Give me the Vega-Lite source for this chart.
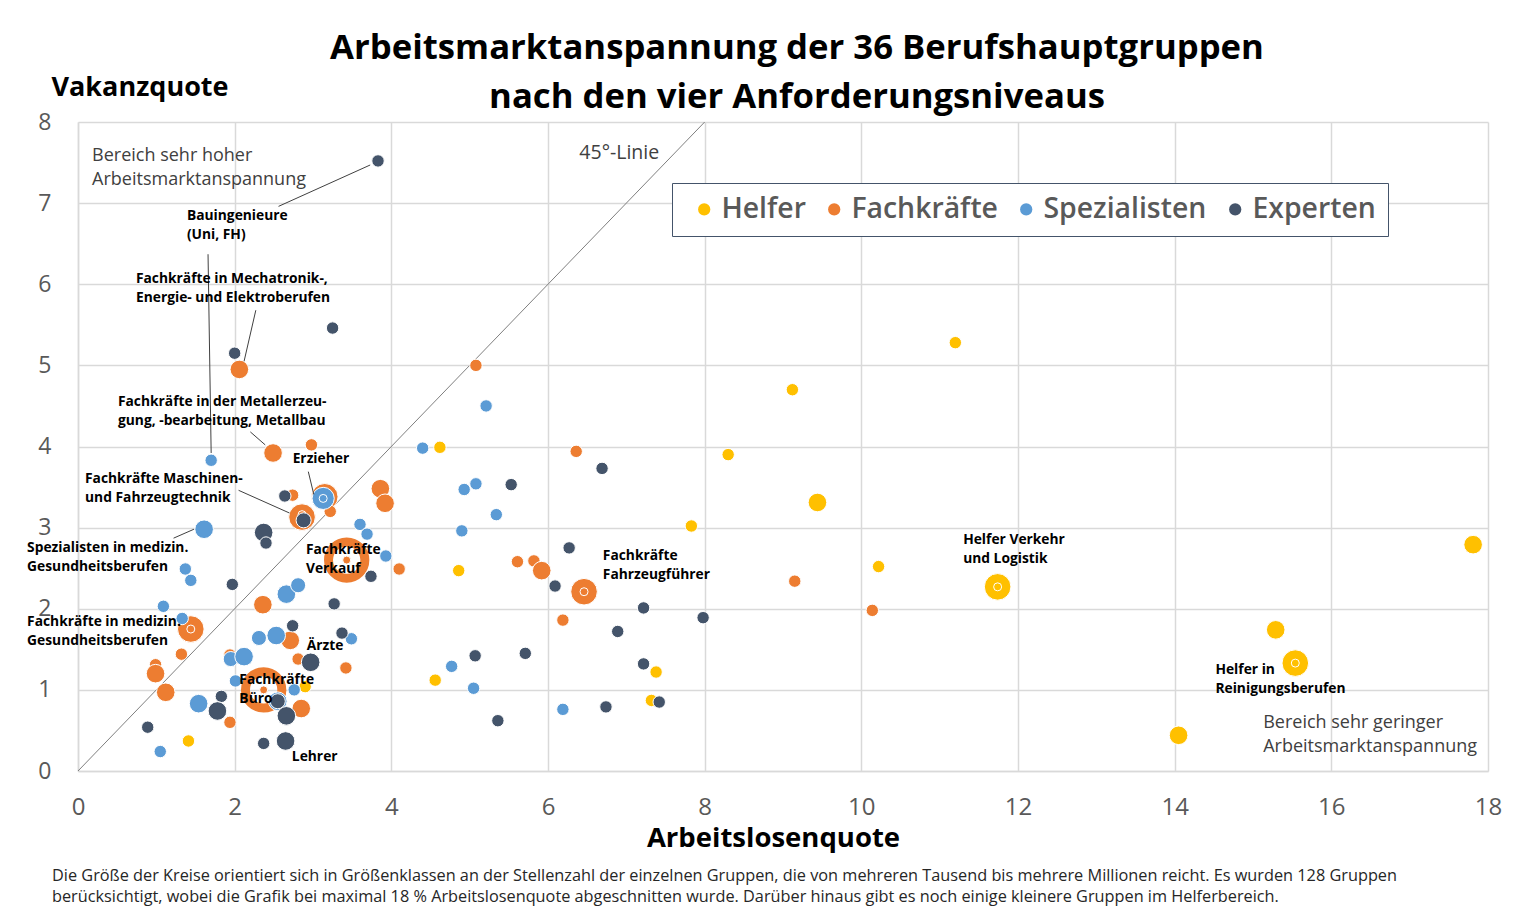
{
  "$schema": "https://vega.github.io/schema/vega-lite/v6.json",
  "width": 1410,
  "height": 649,
  "autosize": {"type": "none"},
  "padding": {"left": 78, "top": 122, "right": 28, "bottom": 146},
  "background": "white",
  "config": {"view": {"stroke": null}, "font": "Open Sans"},
  "title": {
    "text": ["Arbeitsmarktanspannung der 36 Berufshauptgruppen", "nach  den vier Anforderungsniveaus"],
    "frame": "group", "anchor": "middle", "dx": 14, "dy": 57, "offset": 14,
    "fontSize": 34.7, "fontWeight": "bold", "color": "#000000", "lineHeight": 49, "font": "Open Sans"
  },
  "datasets": {
    "punkte": [
      {"niveau": "Helfer", "ax": 11.20, "vq": 5.28, "klasse": 1},
      {"niveau": "Helfer", "ax": 9.12, "vq": 4.70, "klasse": 1},
      {"niveau": "Helfer", "ax": 8.30, "vq": 3.90, "klasse": 1},
      {"niveau": "Helfer", "ax": 9.44, "vq": 3.31, "klasse": 3},
      {"niveau": "Helfer", "ax": 7.83, "vq": 3.02, "klasse": 1},
      {"niveau": "Helfer", "ax": 10.22, "vq": 2.52, "klasse": 1},
      {"niveau": "Helfer", "ax": 11.74, "vq": 2.27, "klasse": 5},
      {"niveau": "Helfer", "ax": 11.74, "vq": 2.27, "klasse": 0},
      {"niveau": "Helfer", "ax": 17.81, "vq": 2.79, "klasse": 3},
      {"niveau": "Helfer", "ax": 15.29, "vq": 1.74, "klasse": 3},
      {"niveau": "Helfer", "ax": 15.54, "vq": 1.33, "klasse": 5},
      {"niveau": "Helfer", "ax": 15.54, "vq": 1.33, "klasse": 0},
      {"niveau": "Helfer", "ax": 14.05, "vq": 0.44, "klasse": 3},
      {"niveau": "Helfer", "ax": 4.62, "vq": 3.99, "klasse": 1},
      {"niveau": "Helfer", "ax": 4.86, "vq": 2.47, "klasse": 1},
      {"niveau": "Helfer", "ax": 4.56, "vq": 1.12, "klasse": 1},
      {"niveau": "Helfer", "ax": 7.38, "vq": 1.22, "klasse": 1},
      {"niveau": "Helfer", "ax": 7.32, "vq": 0.87, "klasse": 1},
      {"niveau": "Helfer", "ax": 2.90, "vq": 1.04, "klasse": 1},
      {"niveau": "Helfer", "ax": 1.41, "vq": 0.37, "klasse": 1},
      {"niveau": "Fachkräfte", "ax": 2.06, "vq": 4.95, "klasse": 3},
      {"niveau": "Fachkräfte", "ax": 2.49, "vq": 3.92, "klasse": 3},
      {"niveau": "Fachkräfte", "ax": 2.98, "vq": 4.02, "klasse": 1},
      {"niveau": "Fachkräfte", "ax": 2.74, "vq": 3.40, "klasse": 1},
      {"niveau": "Fachkräfte", "ax": 3.15, "vq": 3.38, "klasse": 5},
      {"niveau": "Fachkräfte", "ax": 3.22, "vq": 3.20, "klasse": 1},
      {"niveau": "Fachkräfte", "ax": 2.86, "vq": 3.13, "klasse": 5},
      {"niveau": "Fachkräfte", "ax": 2.86, "vq": 3.16, "klasse": 0},
      {"niveau": "Fachkräfte", "ax": 3.86, "vq": 3.48, "klasse": 3},
      {"niveau": "Fachkräfte", "ax": 3.92, "vq": 3.30, "klasse": 3},
      {"niveau": "Fachkräfte", "ax": 4.10, "vq": 2.49, "klasse": 1},
      {"niveau": "Fachkräfte", "ax": 3.43, "vq": 2.60, "klasse": 6},
      {"niveau": "Fachkräfte", "ax": 3.43, "vq": 2.60, "klasse": 0},
      {"niveau": "Fachkräfte", "ax": 2.36, "vq": 2.05, "klasse": 3},
      {"niveau": "Fachkräfte", "ax": 1.44, "vq": 1.75, "klasse": 5},
      {"niveau": "Fachkräfte", "ax": 1.44, "vq": 1.75, "klasse": 0},
      {"niveau": "Fachkräfte", "ax": 2.71, "vq": 1.61, "klasse": 3},
      {"niveau": "Fachkräfte", "ax": 1.32, "vq": 1.44, "klasse": 1},
      {"niveau": "Fachkräfte", "ax": 0.99, "vq": 1.31, "klasse": 1},
      {"niveau": "Fachkräfte", "ax": 0.99, "vq": 1.20, "klasse": 3},
      {"niveau": "Fachkräfte", "ax": 1.12, "vq": 0.97, "klasse": 3},
      {"niveau": "Fachkräfte", "ax": 2.81, "vq": 1.38, "klasse": 1},
      {"niveau": "Fachkräfte", "ax": 3.42, "vq": 1.27, "klasse": 1},
      {"niveau": "Fachkräfte", "ax": 2.37, "vq": 1.00, "klasse": 6},
      {"niveau": "Fachkräfte", "ax": 2.37, "vq": 1.00, "klasse": 0},
      {"niveau": "Fachkräfte", "ax": 2.85, "vq": 0.77, "klasse": 3},
      {"niveau": "Fachkräfte", "ax": 1.94, "vq": 0.60, "klasse": 1},
      {"niveau": "Fachkräfte", "ax": 1.94, "vq": 1.43, "klasse": 1},
      {"niveau": "Fachkräfte", "ax": 5.08, "vq": 5.00, "klasse": 1},
      {"niveau": "Fachkräfte", "ax": 6.36, "vq": 3.94, "klasse": 1},
      {"niveau": "Fachkräfte", "ax": 5.61, "vq": 2.58, "klasse": 1},
      {"niveau": "Fachkräfte", "ax": 5.82, "vq": 2.59, "klasse": 1},
      {"niveau": "Fachkräfte", "ax": 5.92, "vq": 2.47, "klasse": 3},
      {"niveau": "Fachkräfte", "ax": 6.46, "vq": 2.21, "klasse": 5},
      {"niveau": "Fachkräfte", "ax": 6.46, "vq": 2.21, "klasse": 0},
      {"niveau": "Fachkräfte", "ax": 6.19, "vq": 1.86, "klasse": 1},
      {"niveau": "Fachkräfte", "ax": 9.15, "vq": 2.34, "klasse": 1},
      {"niveau": "Fachkräfte", "ax": 10.14, "vq": 1.98, "klasse": 1},
      {"niveau": "Spezialisten", "ax": 1.70, "vq": 3.83, "klasse": 1},
      {"niveau": "Spezialisten", "ax": 3.13, "vq": 3.36, "klasse": 4},
      {"niveau": "Spezialisten", "ax": 3.13, "vq": 3.36, "klasse": 0},
      {"niveau": "Spezialisten", "ax": 1.61, "vq": 2.98, "klasse": 3},
      {"niveau": "Spezialisten", "ax": 3.60, "vq": 3.04, "klasse": 1},
      {"niveau": "Spezialisten", "ax": 3.69, "vq": 2.92, "klasse": 1},
      {"niveau": "Spezialisten", "ax": 3.93, "vq": 2.65, "klasse": 1},
      {"niveau": "Spezialisten", "ax": 1.37, "vq": 2.49, "klasse": 1},
      {"niveau": "Spezialisten", "ax": 1.44, "vq": 2.35, "klasse": 1},
      {"niveau": "Spezialisten", "ax": 2.66, "vq": 2.18, "klasse": 3},
      {"niveau": "Spezialisten", "ax": 2.81, "vq": 2.29, "klasse": 2},
      {"niveau": "Spezialisten", "ax": 1.09, "vq": 2.03, "klasse": 1},
      {"niveau": "Spezialisten", "ax": 1.33, "vq": 1.88, "klasse": 1},
      {"niveau": "Spezialisten", "ax": 2.31, "vq": 1.64, "klasse": 2},
      {"niveau": "Spezialisten", "ax": 2.53, "vq": 1.67, "klasse": 3},
      {"niveau": "Spezialisten", "ax": 3.49, "vq": 1.63, "klasse": 1},
      {"niveau": "Spezialisten", "ax": 1.95, "vq": 1.38, "klasse": 2},
      {"niveau": "Spezialisten", "ax": 2.12, "vq": 1.41, "klasse": 3},
      {"niveau": "Spezialisten", "ax": 2.01, "vq": 1.11, "klasse": 1},
      {"niveau": "Spezialisten", "ax": 2.76, "vq": 1.00, "klasse": 1},
      {"niveau": "Spezialisten", "ax": 1.54, "vq": 0.83, "klasse": 3},
      {"niveau": "Spezialisten", "ax": 2.55, "vq": 0.86, "klasse": 3},
      {"niveau": "Spezialisten", "ax": 1.05, "vq": 0.24, "klasse": 1},
      {"niveau": "Spezialisten", "ax": 5.21, "vq": 4.50, "klasse": 1},
      {"niveau": "Spezialisten", "ax": 4.40, "vq": 3.98, "klasse": 1},
      {"niveau": "Spezialisten", "ax": 4.93, "vq": 3.47, "klasse": 1},
      {"niveau": "Spezialisten", "ax": 5.08, "vq": 3.54, "klasse": 1},
      {"niveau": "Spezialisten", "ax": 5.34, "vq": 3.16, "klasse": 1},
      {"niveau": "Spezialisten", "ax": 4.90, "vq": 2.96, "klasse": 1},
      {"niveau": "Spezialisten", "ax": 4.77, "vq": 1.29, "klasse": 1},
      {"niveau": "Spezialisten", "ax": 5.05, "vq": 1.02, "klasse": 1},
      {"niveau": "Spezialisten", "ax": 6.19, "vq": 0.76, "klasse": 1},
      {"niveau": "Experten", "ax": 3.83, "vq": 7.52, "klasse": 1},
      {"niveau": "Experten", "ax": 3.25, "vq": 5.46, "klasse": 1},
      {"niveau": "Experten", "ax": 2.00, "vq": 5.15, "klasse": 1},
      {"niveau": "Experten", "ax": 2.64, "vq": 3.39, "klasse": 1},
      {"niveau": "Experten", "ax": 2.88, "vq": 3.09, "klasse": 2},
      {"niveau": "Experten", "ax": 2.37, "vq": 2.94, "klasse": 3},
      {"niveau": "Experten", "ax": 2.40, "vq": 2.81, "klasse": 1},
      {"niveau": "Experten", "ax": 3.74, "vq": 2.40, "klasse": 1},
      {"niveau": "Experten", "ax": 1.97, "vq": 2.30, "klasse": 1},
      {"niveau": "Experten", "ax": 3.27, "vq": 2.06, "klasse": 1},
      {"niveau": "Experten", "ax": 2.74, "vq": 1.79, "klasse": 1},
      {"niveau": "Experten", "ax": 3.37, "vq": 1.70, "klasse": 1},
      {"niveau": "Experten", "ax": 2.97, "vq": 1.34, "klasse": 3},
      {"niveau": "Experten", "ax": 1.83, "vq": 0.92, "klasse": 1},
      {"niveau": "Experten", "ax": 1.78, "vq": 0.74, "klasse": 3},
      {"niveau": "Experten", "ax": 2.55, "vq": 0.86, "klasse": 2},
      {"niveau": "Experten", "ax": 2.66, "vq": 0.68, "klasse": 3},
      {"niveau": "Experten", "ax": 0.89, "vq": 0.54, "klasse": 1},
      {"niveau": "Experten", "ax": 2.37, "vq": 0.34, "klasse": 1},
      {"niveau": "Experten", "ax": 2.65, "vq": 0.37, "klasse": 3},
      {"niveau": "Experten", "ax": 5.53, "vq": 3.53, "klasse": 1},
      {"niveau": "Experten", "ax": 6.69, "vq": 3.73, "klasse": 1},
      {"niveau": "Experten", "ax": 6.27, "vq": 2.75, "klasse": 1},
      {"niveau": "Experten", "ax": 6.09, "vq": 2.28, "klasse": 1},
      {"niveau": "Experten", "ax": 7.22, "vq": 2.01, "klasse": 1},
      {"niveau": "Experten", "ax": 7.98, "vq": 1.89, "klasse": 1},
      {"niveau": "Experten", "ax": 6.89, "vq": 1.72, "klasse": 1},
      {"niveau": "Experten", "ax": 5.07, "vq": 1.42, "klasse": 1},
      {"niveau": "Experten", "ax": 5.71, "vq": 1.45, "klasse": 1},
      {"niveau": "Experten", "ax": 7.22, "vq": 1.32, "klasse": 1},
      {"niveau": "Experten", "ax": 7.42, "vq": 0.85, "klasse": 1},
      {"niveau": "Experten", "ax": 6.74, "vq": 0.79, "klasse": 1},
      {"niveau": "Experten", "ax": 5.36, "vq": 0.62, "klasse": 1}
    ],
    "linien": [
      {"ax": 2.56, "vq": 6.96, "ax2": 3.73, "vq2": 7.47},
      {"ax": 1.66, "vq": 6.37, "ax2": 1.70, "vq2": 3.92},
      {"ax": 2.27, "vq": 5.68, "ax2": 2.12, "vq2": 5.05},
      {"ax": 2.20, "vq": 4.18, "ax2": 2.39, "vq2": 4.02},
      {"ax": 2.94, "vq": 3.69, "ax2": 3.01, "vq2": 3.41},
      {"ax": 2.05, "vq": 3.46, "ax2": 2.70, "vq2": 3.18},
      {"ax": 1.22, "vq": 2.87, "ax2": 1.48, "vq2": 2.98}
    ],
    "diagonale": [
      {"ax": 0, "vq": 0, "ax2": 8, "vq2": 8}
    ],
    "labels": [
      {"text": "Bauingenieure\n(Uni, FH)", "ax": 1.39, "vq": 6.841},
      {"text": "Fachkräfte in Mechatronik-,\nEnergie- und Elektroberufen", "ax": 0.74, "vq": 6.065},
      {"text": "Fachkräfte in der Metallerzeu-\ngung, -bearbeitung, Metallbau", "ax": 0.51, "vq": 4.549},
      {"text": "Erzieher", "ax": 2.74, "vq": 3.85},
      {"text": "Fachkräfte Maschinen-\nund Fahrzeugtechnik", "ax": 0.09, "vq": 3.599},
      {"text": "Spezialisten in medizin.\nGesundheitsberufen", "ax": -0.65, "vq": 2.749},
      {"text": "Fachkräfte\nVerkauf", "ax": 2.91, "vq": 2.724},
      {"text": "Fachkräfte\nFahrzeugführer", "ax": 6.70, "vq": 2.650},
      {"text": "Helfer Verkehr\nund Logistik", "ax": 11.30, "vq": 2.847},
      {"text": "Fachkräfte in medizin.\nGesundheitsberufen", "ax": -0.65, "vq": 1.837},
      {"text": "Ärzte", "ax": 2.92, "vq": 1.54},
      {"text": "Fachkräfte\nBüro", "ax": 2.06, "vq": 1.122},
      {"text": "Lehrer", "ax": 2.73, "vq": 0.17},
      {"text": "Helfer in\nReinigungsberufen", "ax": 14.52, "vq": 1.245}
    ],
    "bereiche": [
      {"text": "Bereich sehr hoher\nArbeitsmarktanspannung", "ax": 0.18, "vq": 7.581},
      {"text": "Bereich sehr geringer\nArbeitsmarktanspannung", "ax": 15.13, "vq": 0.592}
    ],
    "linie45": [
      {"text": "45°-Linie", "ax": 6.40, "vq": 7.62}
    ],
    "fussnote": [
      {"text": "Die Größe der Kreise orientiert sich in Größenklassen an der Stellenzahl der einzelnen Gruppen, die von mehreren Tausend bis mehrere Millionen  reicht. Es wurden 128 Gruppen\nberücksichtigt, wobei die Grafik bei maximal 18 % Arbeitslosenquote abgeschnitten wurde. Darüber hinaus gibt es noch einige kleinere Gruppen im Helferbereich.", "ax": -0.332, "vq": -1.294}
    ]
  },
  "encoding": {
    "x": {
      "field": "ax", "type": "quantitative",
      "scale": {"domain": [0, 18], "nice": false, "zero": false},
      "axis": {
        "values": [0, 2, 4, 6, 8, 10, 12, 14, 16, 18],
        "grid": true, "gridColor": "#d9d9d9", "gridWidth": 1.5,
        "domainColor": "#d9d9d9", "domainWidth": 1.5,
        "ticks": false, "tickSize": 0, "labelFlush": false,
        "labelFontSize": 24, "labelColor": "#595959", "labelPadding": 24, "labelFont": "Open Sans",
        "title": "Arbeitslosenquote", "titleFontSize": 27.5, "titleFontWeight": "bold", "titleColor": "#000000",
        "titleFont": "Open Sans", "titleX": 695, "titleY": 67, "titleAlign": "center", "titleBaseline": "middle"
      }
    },
    "y": {
      "field": "vq", "type": "quantitative",
      "scale": {"domain": [0, 8], "nice": false, "zero": false},
      "axis": {
        "values": [0, 1, 2, 3, 4, 5, 6, 7, 8],
        "grid": true, "gridColor": "#d9d9d9", "gridWidth": 1.5,
        "domainColor": "#d9d9d9", "domainWidth": 1.5,
        "ticks": false, "tickSize": 0, "labelFlush": false,
        "labelFontSize": 23, "labelColor": "#595959", "labelPadding": 27, "labelFont": "Open Sans",
        "title": "Vakanzquote", "titleFontSize": 27, "titleFontWeight": "bold", "titleColor": "#000000",
        "titleFont": "Open Sans", "titleAngle": 0, "titleX": -27, "titleY": -35, "titleAlign": "left", "titleBaseline": "middle"
      }
    }
  },
  "layer": [
    {
      "data": {"name": "diagonale"},
      "mark": {"type": "rule", "color": "#7f7f7f", "strokeWidth": 1},
      "encoding": {"x2": {"field": "ax2"}, "y2": {"field": "vq2"}}
    },
    {
      "data": {"name": "punkte"},
      "transform": [{"filter": "datum.klasse == 6"}],
      "mark": {"type": "point", "filled": false, "size": 1320, "strokeWidth": 9, "opacity": 1, "stroke": "#ED7D31"}
    },
    {
      "data": {"name": "punkte"},
      "transform": [{"filter": "datum.klasse < 6"}],
      "mark": {"type": "circle", "opacity": 1, "stroke": "white", "strokeWidth": 1},
      "encoding": {
        "color": {"field": "niveau", "type": "nominal",
          "scale": {"domain": ["Helfer", "Fachkräfte", "Spezialisten", "Experten"], "range": ["#FFC000", "#ED7D31", "#5B9BD5", "#44546A"]},
          "legend": {
            "title": null, "orient": "none", "direction": "horizontal",
            "legendX": 594, "legendY": 61, "padding": 12, "symbolOffset": 6,
            "strokeColor": "#44546A", "fillColor": "white",
            "symbolType": "circle", "symbolSize": 150, "symbolStrokeWidth": 0,
            "labelFontSize": 28.4, "labelFont": "Open Sans", "labelFontWeight": 600, "labelColor": "#595959",
            "labelOffset": 3, "columnPadding": 8, "labelLimit": 400
          }
        },
        "size": {"field": "klasse", "type": "quantitative",
          "scale": {"type": "threshold", "domain": [0.5, 1.5, 2.5, 3.5, 4.5], "range": [64, 154, 227, 346, 491, 707]},
          "legend": null}
      }
    },
    {
      "data": {"name": "linien"},
      "mark": {"type": "rule", "color": "#404040", "strokeWidth": 1},
      "encoding": {"x2": {"field": "ax2"}, "y2": {"field": "vq2"}}
    },
    {
      "data": {"name": "labels"},
      "mark": {"type": "text", "align": "left", "baseline": "middle", "font": "Open Sans", "fontWeight": "bold", "fontSize": 13.8, "lineBreak": "\n", "lineHeight": 19, "color": "#000000"},
      "encoding": {"text": {"field": "text"}}
    },
    {
      "data": {"name": "bereiche"},
      "mark": {"type": "text", "align": "left", "baseline": "middle", "font": "Open Sans", "fontSize": 18, "lineBreak": "\n", "lineHeight": 24, "color": "#404040"},
      "encoding": {"text": {"field": "text"}}
    },
    {
      "data": {"name": "linie45"},
      "mark": {"type": "text", "align": "left", "baseline": "middle", "font": "Open Sans", "fontSize": 19.5, "color": "#404040"},
      "encoding": {"text": {"field": "text"}}
    },
    {
      "data": {"name": "fussnote"},
      "mark": {"type": "text", "align": "left", "baseline": "middle", "font": "Open Sans", "fontSize": 16.3, "lineBreak": "\n", "lineHeight": 21, "color": "#262626"},
      "encoding": {"text": {"field": "text"}}
    }
  ]
}
